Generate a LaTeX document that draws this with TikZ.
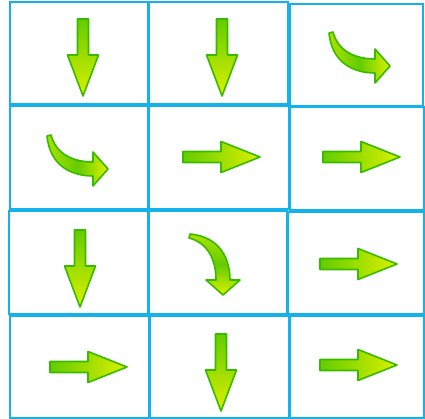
\documentclass[tikz,border=0pt]{standalone}
\usetikzlibrary{calc}
\definecolor{boxcyan}{RGB}{20,178,234}
\definecolor{arrline}{RGB}{56,186,0}
\definecolor{arrgreen}{RGB}{100,204,0}
\definecolor{arryellow}{RGB}{220,240,0}
\tikzset{
  cellbox/.style={draw=boxcyan, line width=2.2pt},
  arrbase/.style={draw=arrline, line width=1.6pt, line join=round},
  harrow/.style={arrbase, left color=arrgreen, right color=arryellow},
  varrow/.style={arrbase, top color=arrgreen, bottom color=arryellow},
  carrow/.style={arrbase, left color=arryellow!60!arrgreen, right color=arryellow, middle color=arrgreen},
  rarr/.pic={\path[harrow] (0,-5.5) -- (38,-5.5) -- (38,-15.5) -- (77,0) -- (38,15.5) -- (38,5.5) -- (0,5.5) -- cycle;},
  darr/.pic={\path[varrow] (-5.5,0) -- (-5.5,36) -- (-15.5,36) -- (0,77) -- (15.5,36) -- (5.5,36) -- (5.5,0) -- cycle;},
  carr/.pic={\path[carrow] (-1,0) .. controls (2,31) and (25,40) .. (45,40) -- (45,50) -- (60,33) -- (45,16) -- (45,26) .. controls (25,26) and (8,18) .. (3,-1) -- cycle;},
  cdarr/.pic={\path[arrbase, top color=arryellow!60!arrgreen, bottom color=arryellow, middle color=arrgreen] (0,-1) .. controls (31,2) and (40,25) .. (40,45) -- (50,45) -- (33,60) -- (16,45) -- (26,45) .. controls (26,25) and (18,8) .. (-1,3) -- cycle;}
}
\begin{document}
\begin{tikzpicture}[x=1pt,y=-1pt]
\useasboundingbox (0,0) rectangle (425,419);
% row 1
\draw[cellbox] (10,2) rectangle (148,104);
\draw[cellbox] (149,2) rectangle (288,104);
\draw[cellbox] (290,4) rectangle (423,106);
% row 2
\draw[cellbox] (10,106) rectangle (148,209);
\draw[cellbox] (149,106) rectangle (289,209);
\draw[cellbox] (290,107) rectangle (424,210);
% row 3
\draw[cellbox] (9,211) rectangle (148,314);
\draw[cellbox] (149,211) rectangle (287,314);
\draw[cellbox] (288,212) rectangle (424,314);
% row 4
\draw[cellbox] (10,316) rectangle (149,418);
\draw[cellbox] (150,316) rectangle (289,418);
\draw[cellbox] (290,316) rectangle (424,418);
% arrows
\pic at (83,19) {darr};
\pic at (222,19) {darr};
\pic at (330,33) {carr};
\pic at (48,136) {carr};
\pic at (183,157) {rarr};
\pic at (323,157) {rarr};
\pic at (80,230) {darr};
\pic at (190,235) {cdarr};
\pic at (320,264) {rarr};
\pic at (50,367) {rarr};
\pic at (221,334) {darr};
\pic at (320,365) {rarr};
\end{tikzpicture}
\end{document}
